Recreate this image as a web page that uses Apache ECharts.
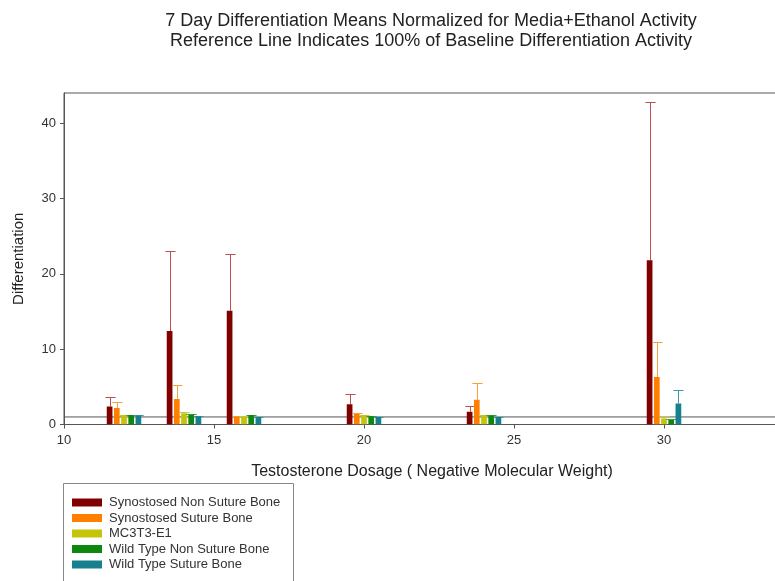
<!DOCTYPE html>
<html>
<head>
<meta charset="utf-8">
<script src="https://cdn.jsdelivr.net/npm/echarts@6/dist/echarts.min.js"></script>
<style>html,body{margin:0;padding:0;background:#fff}#c{width:775px;height:581px}</style>
</head>
<body>
<div id="c"></div>
<script>
var doses = [12, 14, 16, 20, 24, 30];
var seriesNames = ['Synostosed Non Suture Bone', 'Synostosed Suture Bone', 'MC3T3-E1', 'Wild Type Non Suture Bone', 'Wild Type Suture Bone'];
var synNonSutureMean = [2.4, 12.4, 15.1, 2.7, 1.7, 21.8];
var synNonSutureUpper = [3.6, 23.0, 22.6, 4.1, 2.5, 42.8];
var synSutureMean = [2.2, 3.4, 1.05, 1.4, 3.3, 6.3];
var synSutureUpper = [3.05, 5.2, 1.1, 1.5, 5.45, 11.0];
var mc3t3Mean = [1.25, 1.5, 1.05, 1.25, 1.25, 0.8];
var mc3t3Upper = [1.3, 1.6, 1.1, 1.3, 1.3, 1.1];
var wtNonSutureMean = [1.25, 1.3, 1.25, 1.1, 1.2, 0.6];
var wtNonSutureUpper = [1.3, 1.35, 1.3, 1.15, 1.25, 0.7];
var wtSutureMean = [1.2, 1.1, 1.0, 1.0, 1.0, 2.8];
var wtSutureUpper = [1.25, 1.15, 1.05, 1.05, 1.05, 4.6];
var referenceValue = 1;
var xTicks = [10, 15, 20, 25, 30, 35, 40];
var yTicks = [0, 10, 20, 30, 40];

var means = [synNonSutureMean, synSutureMean, mc3t3Mean, wtNonSutureMean, wtSutureMean];
var uppers = [synNonSutureUpper, synSutureUpper, mc3t3Upper, wtNonSutureUpper, wtSutureUpper];
var colors = ['#800000', '#ff8000', '#c4c40a', '#0d870d', '#17808f'];
var errColors = ['#c05050', '#f8a040', '#c8c840', '#40a040', '#3a9aa8'];

var FONT = '"Liberation Sans", Arial, sans-serif';
var BAR_STEP = 0.24, BAR_W = 0.19, CAP_W = 0.34;

function makeSeries(i) {
  var data = doses.map(function (d, j) { return [d, means[i][j], uppers[i][j]]; });
  return {
    name: seriesNames[i],
    type: 'custom',
    itemStyle: { color: colors[i] },
    data: data,
    encode: { x: 0, y: [1, 2] },
    clip: true,
    renderItem: function (params, api) {
      var x = api.value(0), y = api.value(1), hi = api.value(2);
      var step = api.size([BAR_STEP, 0])[0];
      var bw = api.size([BAR_W, 0])[0];
      var cw = api.size([CAP_W, 0])[0];
      var base = api.coord([x, 0]);
      var top = api.coord([x, y]);
      var hiP = api.coord([x, hi]);
      var cx = base[0] + (i - 2) * step;
      var lx = Math.round(cx) + 0.5;
      var hy = Math.round(hiP[1]) + 0.5;
      return {
        type: 'group',
        children: [
          { type: 'line', shape: { x1: lx, y1: top[1], x2: lx, y2: hy }, style: { stroke: errColors[i], lineWidth: 1 } },
          { type: 'line', shape: { x1: lx - cw / 2, y1: hy, x2: lx + cw / 2, y2: hy }, style: { stroke: errColors[i], lineWidth: 1 } },
          { type: 'rect', shape: { x: cx - bw / 2, y: top[1], width: bw, height: base[1] - top[1] }, style: { fill: colors[i] } }
        ]
      };
    }
  };
}

var series = [];
for (var i = 0; i < 5; i++) series.push(makeSeries(i));
series.push({
  type: 'line', silent: true, symbol: 'none', z: 1,
  data: [[xTicks[0], referenceValue], [xTicks[xTicks.length - 1], referenceValue]],
  lineStyle: { color: '#555', width: 1 }
});

var chart = echarts.init(document.getElementById('c'));
chart.setOption({
  animation: false,
  title: [
    { text: '7 Day Differentiation Means Normalized for Media+Ethanol Activity\nReference Line Indicates 100% of Baseline Differentiation Activity',
      left: 426, top: 6, textAlign: 'center',
      textStyle: { fontFamily: FONT, fontSize: 18, fontWeight: 'normal', color: '#222', lineHeight: 20 } },
    { text: 'Testosterone Dosage ( Negative Molecular Weight)',
      left: 427, top: 459, textAlign: 'center',
      textStyle: { fontFamily: FONT, fontSize: 16, fontWeight: 'normal', color: '#222' } }
  ],
  graphic: [{
    type: 'rect', silent: true, z: 0,
    shape: { x: 63.5, y: 483.5, width: 230, height: 130 },
    style: { fill: 'none', stroke: '#888', lineWidth: 1 }
  }],
  legend: {
    data: seriesNames,
    orient: 'vertical', left: 72, top: 496,
    icon: 'rect', itemWidth: 30, itemHeight: 8, itemGap: 2.5,
    padding: 0, height: 200,
    textStyle: { fontFamily: FONT, fontSize: 13, color: '#333', padding: [0, 0, 0, 2] }
  },
  grid: { left: 64, top: 93, width: 900, height: 331.5, show: true, borderColor: '#555', borderWidth: 1, outerBoundsMode: 'none', containLabel: false },
  xAxis: {
    type: 'value', min: xTicks[0], max: xTicks[xTicks.length - 1], interval: 5,
    axisLine: { lineStyle: { color: '#555' } },
    axisTick: { show: true, length: 4, lineStyle: { color: '#555' } },
    axisLabel: { fontFamily: FONT, fontSize: 13, color: '#333', margin: 9 },
    splitLine: { show: false }
  },
  yAxis: {
    type: 'value', min: 0, max: 44,
    name: 'Differentiation', nameLocation: 'middle', nameGap: 38, nameRotate: 90,
    nameTextStyle: { fontFamily: FONT, fontSize: 15, color: '#222' },
    axisLine: { show: true, lineStyle: { color: '#555' } },
    axisTick: { show: true, length: 4, customValues: yTicks, lineStyle: { color: '#555' } },
    axisLabel: { fontFamily: FONT, fontSize: 13, color: '#333', margin: 8, customValues: yTicks },
    splitLine: { show: false }
  },
  series: series
});
</script>
</body>
</html>
